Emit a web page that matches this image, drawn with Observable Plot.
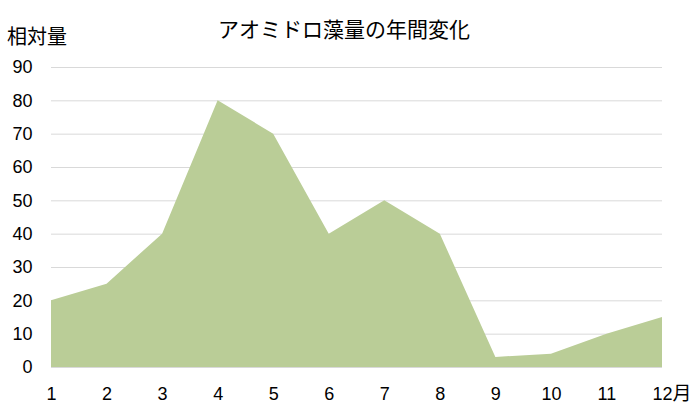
<!DOCTYPE html>
<html><head><meta charset="utf-8">
<script src="https://cdn.jsdelivr.net/npm/d3@7"></script>
<script src="https://cdn.jsdelivr.net/npm/@observablehq/plot@0.6"></script>
<style>
body{margin:0;background:#fff;}
svg{font-family:"Liberation Sans","Noto Sans CJK JP",sans-serif;}
</style></head>
<body><div id="chart"></div>
<script>
const months = [1,2,3,4,5,6,7,8,9,10,11,12];
const values = [20,25,40,80,70,40,50,40,3,4,10,15];
const yTicks = [0,10,20,30,40,50,60,70,80,90];
const title = "アオミドロ藻量の年間変化";
const yLabel = "相対量";
const monthSuffix = "月";
const data = months.map((m,i)=>({month:m, value:values[i]}));

const plot = Plot.plot({
  width:698, height:412,
  marginLeft:51, marginRight:36, marginTop:67, marginBottom:45,
  style:{fontSize:"18px", color:"#000", background:"#fff"},
  x:{domain:[1,12], ticks:months, tickSize:0, tickPadding:20, label:null,
     tickFormat:d=>String(d)},
  y:{domain:[0,90], ticks:yTicks, tickSize:0, tickPadding:19, label:null},
  marks:[
    Plot.gridY(yTicks,{stroke:"#d9d9d9", strokeOpacity:1, strokeWidth:1}),
    Plot.areaY(data,{x:"month", y:"value", fill:"#bacd97"}),
    Plot.ruleY([0],{stroke:"#d9d9d9", strokeWidth:1})
  ]
});
document.getElementById("chart").appendChild(plot);
const svg = d3.select(plot);
svg.selectAll('[aria-label="x-axis tick label"] text').each(function(){
  const t = d3.select(this);
  if (t.text() === String(months[months.length-1])) {
    t.append("tspan").text(monthSuffix).attr("font-family","Noto Sans CJK JP").attr("font-size","19px");
    t.attr("text-anchor","start").attr("dx","-10");
  }
});
svg.append("text").attr("x",344).attr("y",37).attr("text-anchor","middle")
  .attr("font-size","21px").attr("font-family","Noto Sans CJK JP").attr("fill","#000").text(title);
svg.append("text").attr("x",7).attr("y",44).attr("text-anchor","start")
  .attr("font-size","20px").attr("font-family","Noto Sans CJK JP").attr("fill","#000").text(yLabel);
</script></body></html>
